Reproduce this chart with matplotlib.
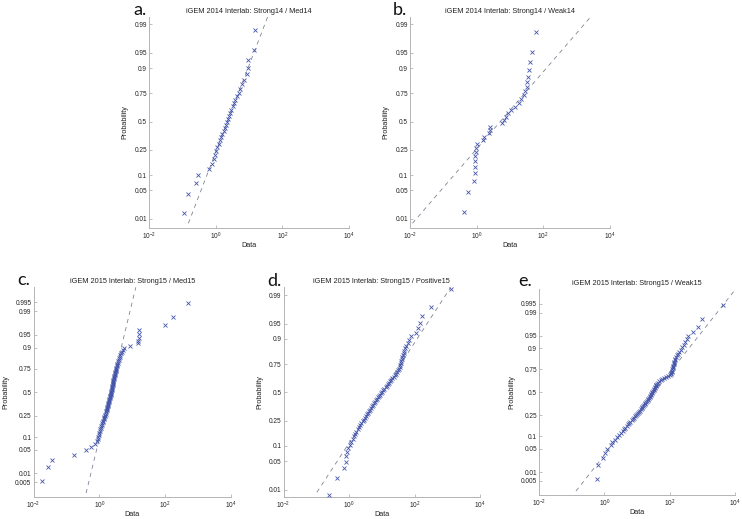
import numpy as np
import matplotlib
matplotlib.use("Agg")
import matplotlib.pyplot as plt
from matplotlib.ticker import NullLocator, FixedLocator, FixedFormatter
from statistics import NormalDist

plt.rcParams['font.family'] = ['Liberation Sans', 'DejaVu Sans']
plt.rcParams['mathtext.fontset'] = 'custom'
plt.rcParams['mathtext.rm'] = 'Liberation Sans'
plt.rcParams['mathtext.it'] = 'Liberation Sans:italic'
plt.rcParams['mathtext.default'] = 'regular'

# ---------------- data (log10 of ratios) ----------------
log10_strong14_med14 = [
    -0.94, -0.83, -0.60, -0.54, -0.21, -0.11, -0.05, -0.01, 0.02, 0.05,
    0.09, 0.13, 0.17, 0.20, 0.24, 0.27, 0.30, 0.33, 0.36, 0.40,
    0.43, 0.47, 0.51, 0.55, 0.59, 0.64, 0.69, 0.74, 0.80, 0.85,
    0.93, 0.96, 0.97, 1.15, 1.18]

log10_strong14_weak14 = [
    -0.39, -0.25, -0.08, -0.06, -0.05, -0.04, -0.04, -0.03, -0.01, 0.01,
    0.21, 0.23, 0.38, 0.40, 0.42, 0.78, 0.82, 0.88, 0.95, 1.05,
    1.15, 1.27, 1.35, 1.42, 1.47, 1.51, 1.53, 1.55, 1.57, 1.61,
    1.68, 1.78]

log10_strong15_med15 = [
    -1.74, -1.57, -1.43, -0.78, -0.42, -0.25, -0.14, -0.07, -0.05, -0.03,
    -0.02, 0.00, 0.02, 0.03, 0.05, 0.06, 0.08, 0.09, 0.11, 0.12,
    0.13, 0.14, 0.155, 0.165, 0.18, 0.19, 0.20, 0.21, 0.22, 0.225,
    0.235, 0.245, 0.25, 0.26, 0.27, 0.275, 0.28, 0.29, 0.30, 0.305,
    0.31, 0.32, 0.33, 0.335, 0.34, 0.35, 0.355, 0.36, 0.365, 0.37,
    0.375, 0.38, 0.39, 0.395, 0.40, 0.405, 0.41, 0.415, 0.42, 0.43,
    0.435, 0.44, 0.45, 0.46, 0.465, 0.47, 0.48, 0.49, 0.495, 0.50,
    0.51, 0.52, 0.53, 0.54, 0.55, 0.56, 0.57, 0.585, 0.60, 0.615,
    0.63, 0.655, 0.68, 0.71, 0.76, 0.94, 1.18, 1.18, 1.19, 1.19,
    1.22, 1.98, 2.23, 2.69]

log10_strong15_positive15 = [
    -0.60, -0.38, -0.15, -0.10, -0.09, -0.05, -0.02, 0.02, 0.06, 0.12,
    0.15, 0.19, 0.22, 0.26, 0.30, 0.34, 0.38, 0.43, 0.47, 0.50,
    0.53, 0.56, 0.59, 0.62, 0.65, 0.68, 0.71, 0.74, 0.77, 0.80,
    0.83, 0.85, 0.88, 0.91, 0.94, 0.97, 1.00, 1.04, 1.08, 1.12,
    1.16, 1.20, 1.22, 1.25, 1.29, 1.32, 1.36, 1.40, 1.44, 1.47,
    1.50, 1.52, 1.55, 1.57, 1.58, 1.60, 1.61, 1.63, 1.65, 1.67,
    1.69, 1.72, 1.75, 1.79, 1.83, 1.90, 2.05, 2.12, 2.17, 2.22,
    2.51, 3.11]

log10_strong15_weak15 = [
    -0.21, -0.18, -0.03, 0.02, 0.08, 0.20, 0.25, 0.32, 0.38, 0.45,
    0.50, 0.56, 0.60, 0.64, 0.68, 0.72, 0.76, 0.80, 0.84, 0.88,
    0.91, 0.94, 0.97, 1.00, 1.03, 1.06, 1.09, 1.12, 1.14, 1.16,
    1.18, 1.21, 1.24, 1.26, 1.29, 1.31, 1.33, 1.35, 1.37, 1.39,
    1.41, 1.43, 1.44, 1.45, 1.47, 1.49, 1.51, 1.53, 1.54, 1.56,
    1.57, 1.58, 1.59, 1.61, 1.64, 1.68, 1.72, 1.77, 1.83, 1.90,
    1.96, 2.00, 2.03, 2.05, 2.06, 2.07, 2.08, 2.09, 2.10, 2.11,
    2.12, 2.13, 2.14, 2.15, 2.17, 2.19, 2.22, 2.26, 2.30, 2.34,
    2.38, 2.43, 2.48, 2.53, 2.57, 2.72, 2.87, 2.98, 3.62]

titles = [
    "iGEM 2014 Interlab: Strong14 / Med14",
    "iGEM 2014 Interlab: Strong14 / Weak14",
    "iGEM 2015 Interlab: Strong15 / Med15",
    "iGEM 2015 Interlab: Strong15 / Positive15",
    "iGEM 2015 Interlab: Strong15 / Weak15",
]
panel_letters = ["a.", "b.", "c.", "d.", "e."]
prob_ticks_narrow = [0.01, 0.05, 0.1, 0.25, 0.5, 0.75, 0.9, 0.95, 0.99]
prob_ticks_wide = [0.005, 0.01, 0.05, 0.1, 0.25, 0.5, 0.75, 0.9, 0.95, 0.99, 0.995]
x_tick_values = [1e-2, 1e0, 1e2, 1e4]
x_tick_labels = [r"$10^{-2}$", r"$10^{0}$", r"$10^{2}$", r"$10^{4}$"]

datasets = [log10_strong14_med14, log10_strong14_weak14, log10_strong15_med15,
            log10_strong15_positive15, log10_strong15_weak15]
tick_sets = [prob_ticks_narrow, prob_ticks_narrow, prob_ticks_wide,
             prob_ticks_narrow, prob_ticks_wide]

# ---------------- layout (pixels of a 742x519 figure) ----------------
W, H = 742, 519
# left, right, top, bottom (px), y-limits in normal-quantile units
layout = [
    (149, 349, 16.7, 228.3, (-2.55, 2.51)),
    (410, 609.5, 16.7, 228.3, (-2.55, 2.51)),
    (33.5, 231, 287.3, 497.3, (-3.01, 3.01)),
    (283.5, 480, 287.4, 497.3, (-2.51, 2.51)),
    (539, 735, 289.4, 495.2, (-3.0, 3.0)),
]
letter_pos = [(133, 15), (393, 15), (17, 285), (267, 286.5), (518, 286.5)]

nd = NormalDist()
_inv = np.vectorize(lambda v: nd.inv_cdf(min(max(v, 1e-12), 1 - 1e-12)) if np.isfinite(v) else np.nan,
                    otypes=[float])
_cdf = np.vectorize(lambda v: nd.cdf(v) if np.isfinite(v) else np.nan, otypes=[float])

marker_color = "#4455aa"
line_color = "#7d8496"
spine_color = "#b4b4b4"
text_color = "#222222"

fig = plt.figure(figsize=(W / 100, H / 100), dpi=100)

for k in range(5):
    l, r, t, b, zlim = layout[k]
    ax = fig.add_axes([l / W, 1 - b / H, (r - l) / W, (b - t) / H])
    ax.set_xscale('log')
    ax.set_yscale('function', functions=(_inv, _cdf))

    logx = np.sort(np.asarray(datasets[k], float))
    n = len(logx)
    x = 10.0 ** logx
    p = (np.arange(1, n + 1) - 0.5) / n

    # reference line through the quartiles
    q1, q3 = np.percentile(logx, [25, 75], method='hazen')
    zq = nd.inv_cdf(0.75)
    slope = 2 * zq / (q3 - q1)
    center = (q1 + q3) / 2
    z_lo, z_hi = zlim[0] + 0.12, zlim[1]
    lx_lo, lx_hi = center + z_lo / slope, center + z_hi / slope
    if lx_lo < -2:
        lx_lo = -2.0
        z_lo = slope * (lx_lo - center)
    if lx_hi > 4:
        lx_hi = 4.0
        z_hi = slope * (lx_hi - center)
    ax.plot([10 ** lx_lo, 10 ** lx_hi], [nd.cdf(z_lo), nd.cdf(z_hi)],
            color=line_color, lw=0.6, dashes=(5, 5), zorder=2)

    ax.plot(x, p, linestyle='none', marker='x', ms=3.2, mew=0.6,
            color=marker_color, zorder=3)

    ax.set_xlim(1e-2, 1e4)
    ax.set_ylim(nd.cdf(zlim[0]), nd.cdf(zlim[1]))
    ax.xaxis.set_major_locator(FixedLocator(x_tick_values))
    ax.xaxis.set_major_formatter(FixedFormatter(x_tick_labels))
    ax.xaxis.set_minor_locator(NullLocator())
    ax.yaxis.set_major_locator(FixedLocator(tick_sets[k]))
    ax.yaxis.set_major_formatter(FixedFormatter([f"{v:g}" for v in tick_sets[k]]))
    ax.yaxis.set_minor_locator(NullLocator())

    for s in ['top', 'right']:
        ax.spines[s].set_visible(False)
    for s in ['left', 'bottom']:
        ax.spines[s].set_color(spine_color)
        ax.spines[s].set_linewidth(0.7)
    ax.tick_params(direction='in', length=2.5, width=0.6, color=spine_color,
                   labelsize=4.7, labelcolor=text_color)
    ax.tick_params(axis='y', pad=1.5)
    ax.tick_params(axis='x', pad=1.5)
    ax.set_facecolor('white')

    ax.set_title(titles[k], fontsize=5.3, pad=3, color=text_color)
    ax.set_xlabel("Data", fontsize=5.2, labelpad=0.0, color=text_color)
    ax.set_ylabel("Probability", fontsize=5.2, labelpad=4, color=text_color)

    lxp, lyp = letter_pos[k]
    fig.text(lxp / W, 1 - lyp / H, panel_letters[k], fontsize=13,
             family=['Lato', 'DejaVu Sans'], ha='left', va='baseline', color='#111111')

fig.savefig("out.png", dpi=100, facecolor='white')
